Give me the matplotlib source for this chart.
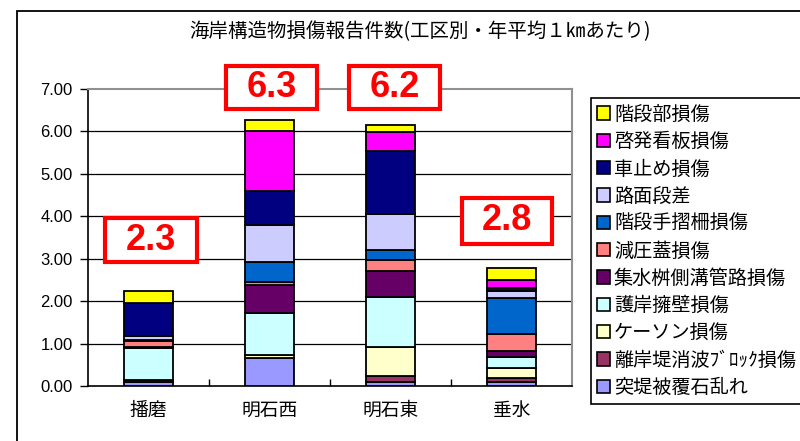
import matplotlib
matplotlib.use("Agg")
import matplotlib.pyplot as plt
from matplotlib.patches import Rectangle, Patch
import numpy as np

categories = ['播磨', '明石西', '明石東', '垂水']

# stacked from bottom to top
series_names = ['突堤被覆石乱れ', '離岸堤消波ﾌﾞﾛｯｸ損傷', 'ケーソン損傷', '護岸擁壁損傷',
                '集水桝側溝管路損傷', '減圧蓋損傷', '階段手摺柵損傷', '路面段差',
                '車止め損傷', '啓発看板損傷', '階段部損傷']
teitei   = [0.09, 0.65, 0.10, 0.10]
rigan    = [0.05, 0.02, 0.13, 0.08]
caisson  = [0.00, 0.05, 0.70, 0.25]
gogan    = [0.75, 1.00, 1.17, 0.26]
shusui   = [0.02, 0.66, 0.60, 0.14]
genatsu  = [0.15, 0.07, 0.27, 0.39]
tesuri   = [0.02, 0.48, 0.23, 0.86]
romen    = [0.10, 0.86, 0.86, 0.17]
kurumadome = [0.78, 0.80, 1.49, 0.05]
kanban   = [0.00, 1.41, 0.43, 0.20]
kaidan   = [0.28, 0.26, 0.17, 0.27]
series_values = [teitei, rigan, caisson, gogan, shusui, genatsu, tesuri, romen,
                 kurumadome, kanban, kaidan]
series_colors = ['#9999FF', '#993366', '#FFFFCC', '#CCFFFF', '#660066', '#FF8080',
                 '#0066CC', '#CCCCFF', '#000080', '#FF00FF', '#FFFF00']

total_labels = ['2.3', '6.3', '6.2', '2.8']
yticks = [0, 1, 2, 3, 4, 5, 6, 7]

W, H = 800, 441
fig = plt.figure(figsize=(8, 4.41), dpi=100)
fig.patch.set_facecolor('white')

ax = fig.add_axes([88 / W, 1 - 386 / H, (572 - 88) / W, (386 - 89) / H])
x = np.arange(len(categories))
bottom = np.zeros(len(categories))
for name, vals, col in zip(series_names, series_values, series_colors):
    ax.bar(x, vals, 0.4, bottom=bottom, color=col, edgecolor='black',
           linewidth=1.3, label=name, zorder=3)
    bottom += np.array(vals)

ax.set_xlim(-0.5, len(categories) - 0.5)
ax.set_ylim(0, 7)
ax.set_yticks(yticks)
ax.set_yticklabels([f'{v:.2f}' for v in yticks], family=['Liberation Sans'], fontsize=12)
ax.set_xticks(x)
ax.set_xticklabels(categories, family=['Noto Sans CJK JP'], fontsize=13.5)
ax.set_xticks(np.arange(0.5, len(categories) - 0.5, 1), minor=True)
ax.tick_params(axis='x', which='major', length=0, pad=10)
ax.tick_params(axis='x', which='minor', length=5, direction='in', width=1)
ax.tick_params(axis='y', length=6, width=1, pad=5)
for yv in yticks[1:-1]:
    ax.axhline(yv, color='black', lw=0.9, zorder=1)
ax.spines['left'].set_color('black')
ax.spines['bottom'].set_color('black')
ax.spines['left'].set_linewidth(1.2)
ax.spines['bottom'].set_linewidth(1.2)
ax.spines['top'].set_color('#909090')
ax.spines['right'].set_color('#909090')
ax.spines['top'].set_linewidth(1.5)
ax.spines['right'].set_linewidth(1.5)

# title
fig.text(420 / W, 1 - 32 / H, '海岸構造物損傷報告件数(工区別・年平均１㎞あたり)',
         ha='center', va='center', fontsize=14, family=['Noto Sans CJK JP', 'DejaVu Sans'])

# outer chart border
fig.patches.append(Rectangle((17 / W, -0.2), 1.2, 1.2 - 11 / H, transform=fig.transFigure,
                             fill=False, ec='black', lw=1.3, clip_on=False))

# total boxes (pixel layout)
boxes = [(105, 218, 92, 44), (226, 66, 91, 43), (349, 66, 91, 43), (462, 198, 90, 46)]
for (bx, by, bw, bh), lab in zip(boxes, total_labels):
    fig.patches.append(Rectangle((bx / W, 1 - (by + bh) / H), bw / W, bh / H,
                                 transform=fig.transFigure, fill=True, fc='white',
                                 ec='#FF0000', lw=3, zorder=5))
    fig.text((bx + bw / 2) / W, 1 - (by + bh / 2) / H, lab, ha='center', va='center',
             color='#FF0000', fontsize=26, fontweight='bold',
             family=['Liberation Sans'], zorder=6)

# legend (top item first)
handles = [Patch(facecolor=c, edgecolor='black', linewidth=1.2)
           for c in series_colors[::-1]]
leg = fig.legend(handles, series_names[::-1], loc='upper left',
                 bbox_to_anchor=(591 / W, 1 - 98 / H), borderaxespad=0,
                 prop={'family': ['Noto Sans CJK JP'], 'size': 13.8},
                 handlelength=0.7, handleheight=0.7, handletextpad=0.2,
                 labelspacing=0.33, borderpad=0.3, fancybox=False, framealpha=1,
                 edgecolor='black')
leg.get_frame().set_linewidth(1.2)

fig.savefig('out.png', dpi=100)
